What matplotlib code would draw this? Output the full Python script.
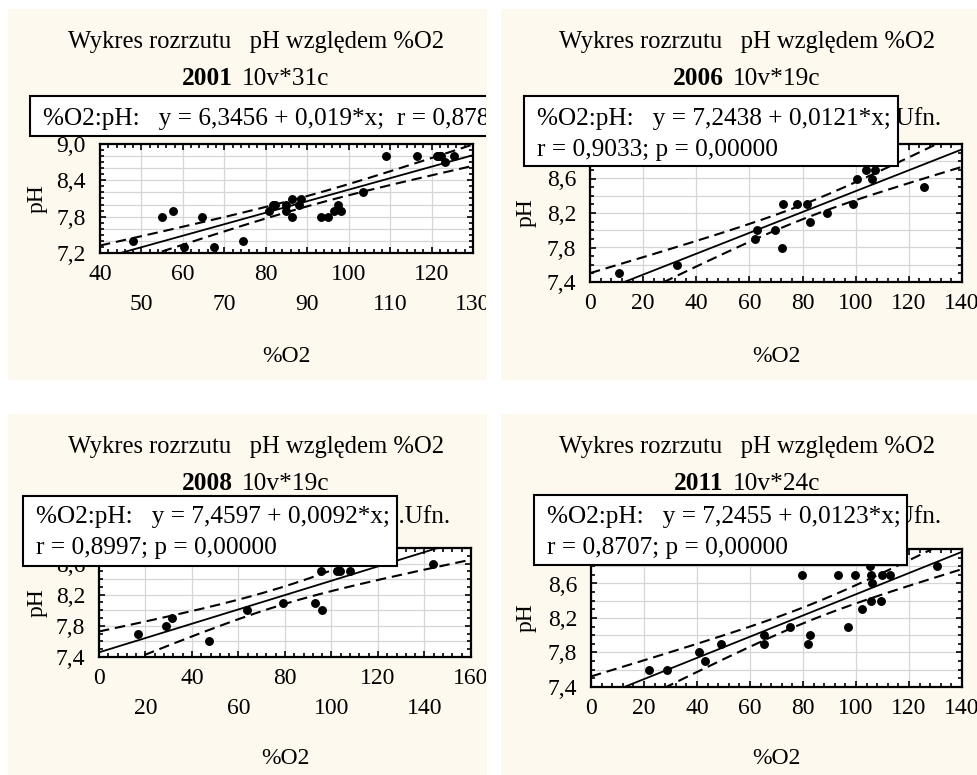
import numpy as np
import matplotlib
matplotlib.use("Agg")
import matplotlib.pyplot as plt
from matplotlib.patches import Rectangle
from matplotlib.transforms import Bbox, TransformedBbox
from matplotlib.ticker import MultipleLocator

plt.rcParams['font.family'] = ['Liberation Serif', 'DejaVu Serif']

# ---------------- data ----------------
o2_2001 = [48.0, 54.9, 57.6, 60.3, 64.6, 67.5, 74.5, 80.7, 81.7, 82.2, 82.0,
           85.0, 85.0, 86.4, 86.4, 88.0, 88.5, 93.3, 95.0, 96.4, 97.4, 98.1,
           103.4, 109.0, 116.4, 121.2, 121.5, 121.7, 122.2, 123.2, 125.3]
ph_2001 = [7.4, 7.8, 7.9, 7.3, 7.8, 7.3, 7.4, 7.9, 8.0, 8.0, 8.0,
           8.0, 7.9, 8.1, 7.8, 8.0, 8.1, 7.8, 7.8, 7.9, 8.0, 7.9,
           8.2, 8.8, 8.8, 8.8, 8.8, 8.8, 8.8, 8.7, 8.8]

o2_2006 = [10.9, 32.9, 62.0, 63.0, 69.5, 72.1, 72.8, 77.8, 81.8, 82.7, 89.3,
           99.0, 100.5, 103.8, 106.3, 107.2, 125.7]
ph_2006 = [7.5, 7.6, 7.9, 8.0, 8.0, 7.8, 8.3, 8.3, 8.3, 8.1, 8.2,
           8.3, 8.6, 8.7, 8.6, 8.7, 8.5]

o2_2008 = [16.6, 28.8, 31.5, 47.3, 63.5, 79.3, 92.9, 95.8, 95.3, 102.5, 103.6,
           108.0, 143.8]
ph_2008 = [7.7, 7.8, 7.9, 7.6, 8.0, 8.1, 8.1, 8.0, 8.5, 8.5, 8.5,
           8.5, 8.6]

o2_2011 = [22.0, 28.5, 40.8, 43.1, 49.0, 65.3, 65.3, 75.1, 79.8, 81.7, 82.5,
           93.2, 97.0, 99.6, 102.1, 105.2, 105.5, 105.5, 106.2, 109.3, 109.9,
           112.7, 130.7]
ph_2011 = [7.6, 7.6, 7.8, 7.7, 7.9, 8.0, 7.9, 8.1, 8.7, 7.9, 8.0,
           8.7, 8.1, 8.7, 8.3, 8.8, 8.7, 8.4, 8.6, 8.4, 8.7,
           8.7, 8.8]

# regression coefficients shown in the reference legends
coef_2001 = (6.3456, 0.019)
coef_2006 = (7.2438, 0.0121)
coef_2008 = (7.4597, 0.0092)
coef_2011 = (7.2455, 0.0123)
# Student t (0.975) for the band
t_2001, t_2006, t_2008, t_2011 = 2.045, 2.131, 2.201, 2.080

eq_2001 = ["%O2:pH:   y = 6,3456 + 0,019*x;  r = 0,8780; p = 0,00000"]
eq_2006 = ["%O2:pH:   y = 7,2438 + 0,0121*x;", "r = 0,9033; p = 0,00000"]
eq_2008 = ["%O2:pH:   y = 7,4597 + 0,0092*x;", "r = 0,8997; p = 0,00000"]
eq_2011 = ["%O2:pH:   y = 7,2455 + 0,0123*x;", "r = 0,8707; p = 0,00000"]

xt_2001 = [40, 50, 60, 70, 80, 90, 100, 110, 120, 130]
xtl_2001 = ['40', '\n50', '60', '\n70', '80', '\n90', '100', '\n110', '120', '\n130']
yt_2001 = [7.2, 7.8, 8.4, 9.0]
ytl_2001 = ['7,2', '7,8', '8,4', '9,0']

xt_2006 = [0, 20, 40, 60, 80, 100, 120, 140]
xtl_2006 = ['0', '20', '40', '60', '80', '100', '120', '140']
yt_2006 = [7.4, 7.8, 8.2, 8.6, 9.0]
ytl_2006 = ['7,4', '7,8', '8,2', '8,6', '9,0']

xt_2008 = [0, 20, 40, 60, 80, 100, 120, 140, 160]
xtl_2008 = ['0', '\n20', '40', '\n60', '80', '\n100', '120', '\n140', '160']
yt_2008 = [7.4, 7.8, 8.2, 8.6]
ytl_2008 = ['7,4', '7,8', '8,2', '8,6']

xt_2011 = [0, 20, 40, 60, 80, 100, 120, 140]
xtl_2011 = ['0', '20', '40', '60', '80', '100', '120', '140']
yt_2011 = [7.4, 7.8, 8.2, 8.6, 9.0]
ytl_2011 = ['7,4', '7,8', '8,2', '8,6', '9,0']

# ---------------- figure ----------------
W, H = 978, 775
fig = plt.figure(figsize=(W / 100, H / 100), dpi=100, facecolor='white')
BG = '#FEF9EE'
FS = 17        # tick labels, axis labels
FS_TITLE = 17.7
FS_YEAR = 18.3
FS_LEG = 18.2


def fx(x):
    return x / W


def fy(y):
    return 1 - y / H


def clipbox(l, t, r, b):
    return TransformedBbox(Bbox.from_extents(fx(l), fy(b), fx(r), fy(t)), fig.transFigure)


def panel(o2, ph, coef, tcrit, year, cases, eq, bg, axpx, xlim, ylim,
          xt, xtl, xminor, yt, ytl, yminor, xgrid, ygrid, box, text_x,
          base1, ufn_right, title_cx, title_base, year_right, xlabel_base,
          ylabel_x, clip):
    bl, bt, br, bb = bg
    fig.add_artist(Rectangle((fx(bl), fy(bb)), fx(br) - fx(bl), fy(bt) - fy(bb),
                             transform=fig.transFigure, facecolor=BG,
                             edgecolor='none', zorder=-5))
    cb = clipbox(bl, bt, br - 1, bb)

    l, t, r, b = axpx
    ax = fig.add_axes([fx(l), fy(b), fx(r) - fx(l), fy(t) - fy(b)])
    ax.set_facecolor('white')
    ax.set_xlim(*xlim)
    ax.set_ylim(*ylim)

    for gx in np.arange(xlim[0], xlim[1] + 1e-9, xgrid):
        ax.axvline(gx, color='#d6d6d6', lw=0.9, zorder=0.5)
    for gy in np.arange(ylim[0], ylim[1] + 1e-9, ygrid):
        ax.axhline(gy, color='#d6d6d6', lw=0.9, zorder=0.5)

    x = np.asarray(o2, float)
    y = np.asarray(ph, float)
    b0, b1 = coef
    n = len(x)
    res = y - (b0 + b1 * x)
    s = np.sqrt(np.sum(res ** 2) / (n - 2))
    xm = x.mean()
    sxx = np.sum((x - xm) ** 2)
    xs = np.linspace(xlim[0], xlim[1], 300)
    yh = b0 + b1 * xs
    hw = tcrit * s * np.sqrt(1.0 / n + (xs - xm) ** 2 / sxx)

    ax.plot(xs, yh, color='black', lw=1.3, zorder=3)
    ax.plot(xs, yh + hw, color='black', lw=1.5, ls=(0, (5, 2.8)), zorder=3)
    ax.plot(xs, yh - hw, color='black', lw=1.5, ls=(0, (5, 2.8)), zorder=3)
    ax.plot(x, y, 'o', color='black', ms=5.4, zorder=4, clip_on=True)

    ax.set_xticks(xt)
    ax.set_xticklabels(xtl)
    ax.set_yticks(yt)
    ax.set_yticklabels(ytl)
    ax.xaxis.set_minor_locator(MultipleLocator(xminor))
    ax.yaxis.set_minor_locator(MultipleLocator(yminor))
    ax.tick_params(which='both', direction='in', top=True, right=True,
                   width=1.2, color='black', labelsize=FS)
    ax.tick_params(which='major', length=4)
    ax.tick_params(which='minor', length=3)
    ax.tick_params(axis='x', pad=8)
    ax.tick_params(axis='y', pad=10)
    for lab in ax.get_xticklabels():
        lab.set_linespacing(1.55)
        if clip:
            lab.set_clip_box(cb)
            lab.set_clip_on(True)
    for sp in ax.spines.values():
        sp.set_linewidth(1.6)
        sp.set_color('black')

    # axis labels
    cx = (l + r) / 2
    fig.text(fx(cx), fy(xlabel_base), '%O2', ha='center', va='baseline', fontsize=FS)
    fig.text(fx(ylabel_x), fy((t + b) / 2), 'pH', ha='center', va='center',
             rotation=90, fontsize=FS)

    # titles
    fig.text(fx(title_cx), fy(title_base), 'Wykres rozrzutu   pH względem %O2',
             ha='center', va='baseline', fontsize=FS_TITLE)
    fig.text(fx(year_right), fy(title_base + 37), year, ha='right', va='baseline',
             fontsize=FS_YEAR, fontweight='bold')
    fig.text(fx(year_right + 9), fy(title_base + 37), cases, ha='left', va='baseline',
             fontsize=FS_YEAR)

    # confidence-band legend entry (mostly hidden under the box)
    if ufn_right is not None:
        fig.text(fx(ufn_right), fy(base1), '0,95 Przedz.Ufn.', ha='right',
                 va='baseline', fontsize=FS_LEG, zorder=6)

    # legend box
    xl, yt_, xr, yb = box
    rect = Rectangle((fx(xl), fy(yb)), fx(xr) - fx(xl), fy(yt_) - fy(yb),
                     transform=fig.transFigure, facecolor='white',
                     edgecolor='black', lw=1.5, zorder=8)
    fig.add_artist(rect)
    if clip:
        rect.set_clip_box(cb)
        rect.set_clip_on(True)
    for i, line in enumerate(eq):
        tx = fig.text(fx(text_x), fy(base1 + 31 * i), line, ha='left',
                      va='baseline', fontsize=FS_LEG, zorder=9)
        if clip:
            tx.set_clip_box(cb)
            tx.set_clip_on(True)
    return ax


panel(o2_2001, ph_2001, coef_2001, t_2001, '2001', '10v*31c', eq_2001,
      bg=(8, 9, 487, 380), axpx=(100, 144, 473, 253), xlim=(40, 130), ylim=(7.2, 9.0),
      xt=xt_2001, xtl=xtl_2001, xminor=2, yt=yt_2001, ytl=ytl_2001, yminor=0.1,
      xgrid=10, ygrid=0.2, box=(30, 96, 560, 136), text_x=43, base1=125,
      ufn_right=None, title_cx=256, title_base=48, year_right=233,
      xlabel_base=362, ylabel_x=37, clip=True)

panel(o2_2006, ph_2006, coef_2006, t_2006, '2006', '10v*19c', eq_2006,
      bg=(501, 9, 978, 380), axpx=(590, 144, 962, 282), xlim=(0, 140), ylim=(7.4, 9.0),
      xt=xt_2006, xtl=xtl_2006, xminor=4, yt=yt_2006, ytl=ytl_2006, yminor=0.1,
      xgrid=20, ygrid=0.2, box=(524, 96, 898, 166), text_x=537, base1=125,
      ufn_right=941, title_cx=747, title_base=48, year_right=724,
      xlabel_base=362, ylabel_x=526, clip=False)

panel(o2_2008, ph_2008, coef_2008, t_2008, '2008', '10v*19c', eq_2008,
      bg=(8, 414, 487, 775), axpx=(99, 548, 471, 657), xlim=(0, 160), ylim=(7.4, 8.8),
      xt=xt_2008, xtl=xtl_2008, xminor=4, yt=yt_2008, ytl=ytl_2008, yminor=0.1,
      xgrid=20, ygrid=0.2, box=(23, 496, 397, 566), text_x=36, base1=523,
      ufn_right=450, title_cx=256, title_base=453, year_right=233,
      xlabel_base=764, ylabel_x=37, clip=True)

panel(o2_2011, ph_2011, coef_2011, t_2011, '2011', '10v*24c', eq_2011,
      bg=(501, 414, 978, 775), axpx=(591, 549, 962, 687), xlim=(0, 140), ylim=(7.4, 9.0),
      xt=xt_2011, xtl=xtl_2011, xminor=4, yt=yt_2011, ytl=ytl_2011, yminor=0.1,
      xgrid=20, ygrid=0.2, box=(534, 495, 907, 565), text_x=547, base1=523,
      ufn_right=941, title_cx=747, title_base=453, year_right=724,
      xlabel_base=764, ylabel_x=526, clip=False)

fig.savefig('out.png', dpi=100, facecolor='white')
